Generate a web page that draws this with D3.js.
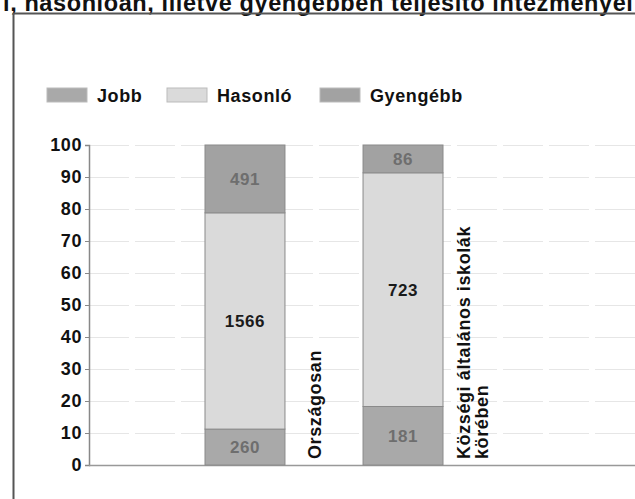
<!DOCTYPE html>
<html>
<head>
<meta charset="utf-8">
<script src="https://cdn.jsdelivr.net/npm/d3@7"></script>
<style>
html,body{margin:0;padding:0;background:#fff;}
svg{display:block;}
text{font-family:"Liberation Sans",Arial,sans-serif;font-weight:bold;letter-spacing:0.6px;}
</style>
</head>
<body>
<svg id="chart" width="635" height="499"></svg>
<script>
const categories = ["Országosan", "Községi általános iskolák körében"];
const categoryLines = [["Országosan"], ["Községi általános iskolák", "körében"]];
const seriesNames = ["Jobb", "Hasonló", "Gyengébb"];
const jobb = [260, 181];
const hasonlo = [1566, 723];
const gyengebb = [491, 86];
const yTicks = [0, 10, 20, 30, 40, 50, 60, 70, 80, 90, 100];
const titleText = "l, hasonlóan, illetve gyengébben teljesítő intézményei a";

const colors = {"Jobb": "#a9a9a9", "Hasonló": "#dadada", "Gyengébb": "#a2a2a2"};
const labelColors = {"Jobb": "#6e6e6e", "Hasonló": "#1a1a1a", "Gyengébb": "#6e6e6e"};

const rows = categories.map((c, i) => {
  const tot = jobb[i] + hasonlo[i] + gyengebb[i];
  return {cat: c, "Jobb": jobb[i] / tot * 100, "Hasonló": hasonlo[i] / tot * 100, "Gyengébb": gyengebb[i] / tot * 100,
          counts: {"Jobb": jobb[i], "Hasonló": hasonlo[i], "Gyengébb": gyengebb[i]}};
});

const svg = d3.select("#chart");

// title (cut off at top, as in the scanned original)
svg.append("text").attr("x", 3).attr("y", 10.5)
  .attr("font-size", 23.5).attr("letter-spacing", "0.2px").attr("fill", "#111").text(titleText);

// frame
svg.append("line").attr("x1", 13).attr("x2", 635).attr("y1", 13.5).attr("y2", 13.5)
  .attr("stroke", "#555").attr("stroke-width", 2);
svg.append("line").attr("x1", 13.5).attr("x2", 13.5).attr("y1", 13).attr("y2", 499)
  .attr("stroke", "#555").attr("stroke-width", 2);

const y = d3.scaleLinear().domain([0, 100]).range([465, 145]);
const x = d3.scaleBand().domain(categories).range([205, 443]).paddingInner(0.494).paddingOuter(0);
const plotLeft = 89, plotRight = 635;

// gridlines
svg.append("g").selectAll("line").data(yTicks.filter(d => d > 0)).join("line")
  .attr("x1", plotLeft).attr("x2", plotRight)
  .attr("y1", d => Math.round(y(d)) + 0.5).attr("y2", d => Math.round(y(d)) + 0.5)
  .attr("stroke", "#e6e6e6").attr("stroke-width", 1).attr("stroke-dasharray", "40,6");

// y axis
const yAxis = d3.axisLeft(y).tickValues(yTicks).tickSize(4).tickPadding(3).tickFormat(d3.format("d"));
const gy = svg.append("g").attr("transform", `translate(${plotLeft},0)`).call(yAxis);
gy.select(".domain").attr("stroke", "#888").attr("stroke-width", 1.5);
gy.selectAll(".tick line").attr("stroke", "#888");
gy.selectAll(".tick text").attr("font-size", 18).attr("fill", "#111")
  .attr("font-family", "Liberation Sans, Arial, sans-serif").attr("font-weight", "bold");

// x baseline
svg.append("line").attr("x1", plotLeft).attr("x2", plotRight).attr("y1", y(0) + 0.5).attr("y2", y(0) + 0.5)
  .attr("stroke", "#999").attr("stroke-width", 1.5);

// stacked bars
const stack = d3.stack().keys(seriesNames);
const stacked = stack(rows);
const gBars = svg.append("g");
stacked.forEach(layer => {
  const key = layer.key;
  gBars.selectAll(null).data(layer).join("rect")
    .attr("x", d => x(d.data.cat))
    .attr("width", x.bandwidth())
    .attr("y", d => y(d[1]))
    .attr("height", d => y(d[0]) - y(d[1]))
    .attr("fill", colors[key]).attr("stroke", "#8a8a8a").attr("stroke-width", 1);
  gBars.selectAll(null).data(layer).join("text")
    .attr("x", d => x(d.data.cat) + x.bandwidth() / 2)
    .attr("y", d => (y(d[0]) + y(d[1])) / 2)
    .attr("dy", "0.36em")
    .attr("text-anchor", "middle").attr("font-size", 17)
    .attr("fill", labelColors[key])
    .text(d => d.data.counts[key]);
});

// category labels (rotated, right of each bar)
const gCat = svg.append("g");
categories.forEach((c, i) => {
  const lines = categoryLines[i];
  const cx = x(c) + x.bandwidth() + 30;
  const t = gCat.append("text")
    .attr("transform", `translate(${cx},459) rotate(-90)`)
    .attr("text-anchor", "start").attr("font-size", 18).attr("fill", "#111");
  lines.forEach((ln, j) => {
    t.append("tspan").attr("x", 0)
      .attr("dy", j === 0 ? (0.36 - (lines.length - 1) * 0.5) + "em" : "1.0em")
      .text(ln);
  });
});

// legend
const legend = svg.append("g");
const legendX = [47, 167, 320];
seriesNames.forEach((s, i) => {
  legend.append("rect").attr("x", legendX[i]).attr("y", 88).attr("width", 40).attr("height", 14)
    .attr("fill", colors[s]).attr("stroke", "#bbb").attr("stroke-width", 1);
  legend.append("text").attr("x", legendX[i] + 50).attr("y", 101.5)
    .attr("font-size", 18).attr("fill", "#111").text(s);
});
</script>
</body>
</html>
